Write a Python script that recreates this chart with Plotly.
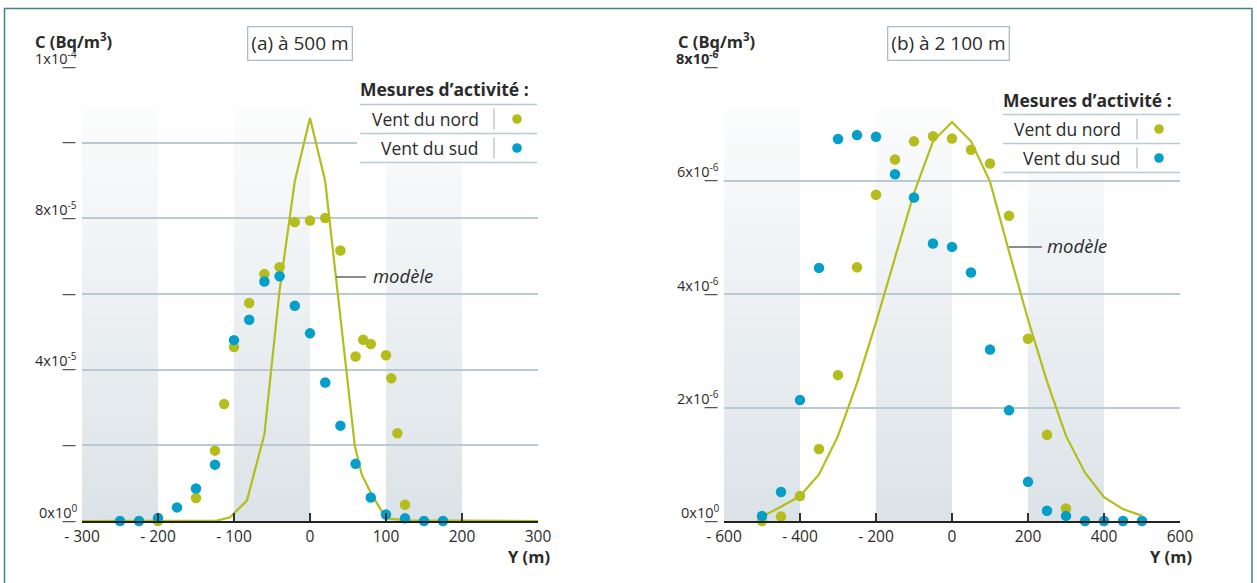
import plotly.graph_objects as go

W, H = 1257, 583

# ---------------- data : panel (a) 500 m ----------------
a_x_tickvals = [-300, -200, -100, 0, 100, 200, 300]
a_x_ticktext = ["- 300", "- 200", "- 100", "0", "100", "200", "300"]
a_y_gridvals = [0, 2e-5, 4e-5, 6e-5, 8e-5, 1.0e-4, 1.2e-4]
a_y_labels = ["0x10<sup>0</sup>", "", "4x10<sup>-5</sup>", "", "8x10<sup>-5</sup>", "", "1x10<sup>-4</sup>"]

a_nord_x = [-200, -150, -125, -113, -100, -80, -60, -40, -20, 0, 20, 40, 60, 70, 80, 100, 107, 115, 125]
a_nord_y = [0.0, 0.61e-5, 1.86e-5, 3.09e-5, 4.60e-5, 5.76e-5, 6.53e-5, 6.71e-5, 7.90e-5, 7.94e-5,
            8.01e-5, 7.15e-5, 4.35e-5, 4.79e-5, 4.68e-5, 4.38e-5, 3.77e-5, 2.32e-5, 0.43e-5]

a_sud_x = [-250, -225, -200, -175, -150, -125, -100, -80, -60, -40, -20, 0, 20, 40, 60, 80, 100, 125, 150, 175]
a_sud_y = [0.0, 0.0, 0.08e-5, 0.36e-5, 0.86e-5, 1.49e-5, 4.78e-5, 5.32e-5, 6.33e-5, 6.47e-5,
           5.69e-5, 4.96e-5, 3.66e-5, 2.52e-5, 1.51e-5, 0.62e-5, 0.17e-5, 0.07e-5, 0.0, 0.0]

a_model_x = [-300, -150, -122, -105, -83, -60, -40, -20, 0, 20, 59, 68, 80, 93, 102, 125, 300]
a_model_y = [0.0, 0.0, 0.01e-5, 0.10e-5, 0.54e-5, 2.29e-5, 6.1e-5, 8.98e-5, 10.65e-5, 8.98e-5,
             1.98e-5, 1.23e-5, 0.75e-5, 0.30e-5, 0.07e-5, 0.02e-5, 0.0]

a_bands = [(-300, -200), (-100, 0), (100, 200)]

# ---------------- data : panel (b) 2 100 m ----------------
b_x_tickvals = [-600, -400, -200, 0, 200, 400, 600]
b_x_ticktext = ["- 600", "- 400", "- 200", "0", "200", "400", "600"]
b_y_gridvals = [0, 2e-6, 4e-6, 6e-6, 8e-6]
b_y_labels = ["0x10<sup>0</sup>", "2x10<sup>-6</sup>", "4x10<sup>-6</sup>", "6x10<sup>-6</sup>",
              "<b>8x10<sup>-6</sup></b>"]

b_nord_x = [-500, -450, -400, -350, -300, -250, -200, -150, -100, -50, 0, 50, 100, 150, 200, 250, 300]
b_nord_y = [0.0, 0.08e-6, 0.44e-6, 1.27e-6, 2.57e-6, 4.47e-6, 5.75e-6, 6.37e-6, 6.69e-6, 6.78e-6,
            6.74e-6, 6.54e-6, 6.30e-6, 5.38e-6, 3.21e-6, 1.52e-6, 0.22e-6]

b_sud_x = [-500, -450, -400, -350, -300, -250, -200, -150, -100, -50, 0, 50, 100, 150, 200, 250, 300,
           350, 400, 450, 500]
b_sud_y = [0.09e-6, 0.51e-6, 2.13e-6, 4.46e-6, 6.73e-6, 6.80e-6, 6.77e-6, 6.11e-6, 5.70e-6, 4.89e-6,
           4.83e-6, 4.38e-6, 3.02e-6, 1.95e-6, 0.69e-6, 0.18e-6, 0.09e-6, 0.0, 0.0, 0.0, 0.0]

b_model_x = [-500, -450, -400, -350, -300, -250, -200, -150, -100, -50, 0, 50, 100, 150, 200, 250, 300,
             350, 400, 450, 500]
b_model_y = [0.08e-6, 0.25e-6, 0.44e-6, 0.82e-6, 1.50e-6, 2.43e-6, 3.50e-6, 4.65e-6, 5.78e-6, 6.69e-6,
             7.03e-6, 6.69e-6, 5.98e-6, 4.75e-6, 3.55e-6, 2.46e-6, 1.50e-6, 0.85e-6, 0.42e-6, 0.21e-6, 0.09e-6]

b_bands = [(-600, -400), (-200, 0), (200, 400)]

# ---------------- styles ----------------
GREEN = "#b4bd1c"
BLUE = "#049fc8"
GRID = "#b9cad3"
TXT = "#2b2b2b"
FONT = "Open Sans"


def fx(px):
    return px / W


def fy(py):
    return 1 - py / H


fig = go.Figure()

panels = [
    dict(xa="x", ya="y", mx=a_model_x, my=a_model_y, nx=a_nord_x, ny=a_nord_y, sx=a_sud_x, sy=a_sud_y),
    dict(xa="x2", ya="y2", mx=b_model_x, my=b_model_y, nx=b_nord_x, ny=b_nord_y, sx=b_sud_x, sy=b_sud_y),
]
for p in panels:
    fig.add_trace(go.Scatter(x=p["mx"], y=p["my"], mode="lines", xaxis=p["xa"], yaxis=p["ya"],
                             line=dict(color=GREEN, width=2.2), showlegend=False, hoverinfo="skip"))
    fig.add_trace(go.Scatter(x=p["nx"], y=p["ny"], mode="markers", xaxis=p["xa"], yaxis=p["ya"],
                             marker=dict(color=GREEN, size=10.5, line=dict(width=0)),
                             cliponaxis=False, showlegend=False))
    fig.add_trace(go.Scatter(x=p["sx"], y=p["sy"], mode="markers", xaxis=p["xa"], yaxis=p["ya"],
                             marker=dict(color=BLUE, size=10.5, line=dict(width=0)),
                             cliponaxis=False, showlegend=False))

shapes = []
annotations = []

# gradient bands
N = 36
band_top = 0.905
c_bot = (220, 227, 232)
c_top = (251, 252, 252)
for bands, xr in [(a_bands, "x"), (b_bands, "x2")]:
    ya = "y" if xr == "x" else "y2"
    for (b0, b1) in bands:
        for i in range(N):
            t = (i + 0.5) / N
            c = tuple(int(round(c_bot[k] + (c_top[k] - c_bot[k]) * t)) for k in range(3))
            shapes.append(dict(type="rect", xref=xr, yref=ya + " domain", x0=b0, x1=b1,
                               y0=band_top * i / N, y1=band_top * (i + 1) / N + 0.002,
                               fillcolor="rgb(%d,%d,%d)" % c, line=dict(width=0), layer="below"))


def rect_px(x0, y0, x1, y1, color="white"):
    shapes.append(dict(type="rect", xref="paper", yref="paper", x0=fx(x0), x1=fx(x1), y0=fy(y1), y1=fy(y0),
                       fillcolor=color, line=dict(width=0), layer="above"))


def hline(x0, x1, y, color=GRID, w=1.5):
    shapes.append(dict(type="line", xref="paper", yref="paper", x0=fx(x0), x1=fx(x1), y0=fy(y), y1=fy(y),
                       line=dict(color=color, width=w), layer="above"))


def vline(x, y0, y1, color=GRID, w=1.5):
    shapes.append(dict(type="line", xref="paper", yref="paper", x0=fx(x), x1=fx(x), y0=fy(y0), y1=fy(y1),
                       line=dict(color=color, width=w), layer="above"))


def dot(cx, cy, color, r=4.8):
    shapes.append(dict(type="circle", xref="paper", yref="paper", x0=fx(cx - r), x1=fx(cx + r),
                       y0=fy(cy + r), y1=fy(cy - r), fillcolor=color, line=dict(width=0), layer="above"))


def text(x, y, s, size=15, xanchor="left", color=TXT, **kw):
    annotations.append(dict(xref="paper", yref="paper", x=fx(x), y=fy(y), text=s, showarrow=False,
                            xanchor=xanchor, yanchor="middle", font=dict(family=FONT, size=size, color=color), **kw))


# legends
for (L, R, sep, tx, dx, yh, y1, y2, y3) in [(360, 537, 494, 481, 517, 89, 104.5, 133.5, 162.5),
                                            (1003, 1180, 1137, 1123, 1159, 100, 114.5, 143.5, 172.5)]:
    rect_px(L - 3, y1 - 28, R + 2, y3 + 1)
    text(R - 6, yh, "<b>Mesures d’activité :</b>", size=17.5, xanchor="right")
    hline(L, R, y1)
    hline(L, R, y2)
    hline(L, R, y3)
    vline(sep, y1 + 4, y2 - 4)
    vline(sep, y2 + 4, y3 - 4)
    text(tx, (y1 + y2) / 2, "Vent du nord", size=17.5, xanchor="right")
    text(tx, (y2 + y3) / 2, "Vent du sud", size=17.5, xanchor="right")
    dot(dx, (y1 + y2) / 2, GREEN)
    dot(dx, (y2 + y3) / 2, BLUE)

# modèle pointers
hline(336, 366, 277, color="#666666", w=1.5)
text(371, 275, "<i>modèle</i>", size=18.5)
hline(1009, 1042, 247, color="#666666", w=1.5)
text(1045, 245, "<i>modèle</i>", size=18.5)

# axis titles and panel titles
text(33, 41, "<b>C (Bq/m<sup>3</sup>)</b>", size=16.5)
text(676, 41, "<b>C (Bq/m<sup>3</sup>)</b>", size=16.5)
text(552, 556, "<b>Y (m)</b>", size=16.5, xanchor="right")
text(1194, 556, "<b>Y (m)</b>", size=16.5, xanchor="right")
annotations.append(dict(xref="paper", yref="paper", x=fx(299.5), y=fy(44), text="(a) à 500 m", showarrow=False,
                        xanchor="center", yanchor="middle", font=dict(family=FONT, size=19, color=TXT),
                        bordercolor="#a9bdc7", borderwidth=1.3, borderpad=3, bgcolor="white"))
annotations.append(dict(xref="paper", yref="paper", x=fx(948), y=fy(44), text="(b) à 2 100 m", showarrow=False,
                        xanchor="center", yanchor="middle", font=dict(family=FONT, size=19, color=TXT),
                        bordercolor="#a9bdc7", borderwidth=1.3, borderpad=3, bgcolor="white"))

# y labels (number above, dash at gridline)
for xr, yr, vals, labs in [("x domain", "y", a_y_gridvals, a_y_labels),
                           ("x2 domain", "y2", b_y_gridvals, b_y_labels)]:
    for v, lab in zip(vals, labs):
        annotations.append(dict(xref=xr, yref=yr, x=0, y=v, text="—", showarrow=False, xanchor="right",
                                yanchor="middle", xshift=-4, yshift=1,
                                font=dict(family=FONT, size=14, color="#555555")))
        if lab:
            annotations.append(dict(xref=xr, yref=yr, x=0, y=v, text=lab, showarrow=False, xanchor="right",
                                    yanchor="middle", xshift=-3, yshift=10,
                                    font=dict(family=FONT, size=14.5, color=TXT)))

# outer border (left, top, right edges; bottom runs off the picture)
bx0, bx1, by_top = fx(4.5), fx(1252), fy(8.5)
shapes.append(dict(type="path", xref="paper", yref="paper",
                   path="M %f,0 L %f,%f L %f,%f L %f,0" % (bx0, bx0, by_top, bx1, by_top, bx1),
                   line=dict(color="#3f8680", width=1.5), layer="above"))

xcommon = dict(showgrid=False, zeroline=False, showline=True, linecolor="#222222", linewidth=2,
               ticks="inside", ticklen=8, tickwidth=1.5, tickcolor="#333333", automargin=False,
               tickfont=dict(family=FONT, size=15.5, color=TXT), fixedrange=True)
ycommon = dict(showgrid=True, gridcolor=GRID, gridwidth=1.5, zeroline=False, showline=False,
               showticklabels=False, ticks="", fixedrange=True, automargin=False)

ydom = [fy(521), fy(67)]
fig.update_layout(
    width=W, height=H, autosize=False,
    margin=dict(l=0, r=0, t=0, b=0, pad=0, autoexpand=False),
    paper_bgcolor="white", plot_bgcolor="white",
    showlegend=False,
    xaxis=dict(domain=[fx(82), fx(538)], range=[-300, 300], tickmode="array",
               tickvals=a_x_tickvals, ticktext=a_x_ticktext, anchor="y", **xcommon),
    yaxis=dict(domain=ydom, range=[0, 1.2e-4], tickmode="array", tickvals=a_y_gridvals, anchor="x", **ycommon),
    xaxis2=dict(domain=[fx(724), fx(1180)], range=[-600, 600], tickmode="array",
                tickvals=b_x_tickvals, ticktext=b_x_ticktext, anchor="y2", **xcommon),
    yaxis2=dict(domain=ydom, range=[0, 8e-6], tickmode="array", tickvals=b_y_gridvals, anchor="x2", **ycommon),
    shapes=shapes,
    annotations=annotations,
    font=dict(family=FONT, color=TXT),
)

fig.write_html("out.html")
